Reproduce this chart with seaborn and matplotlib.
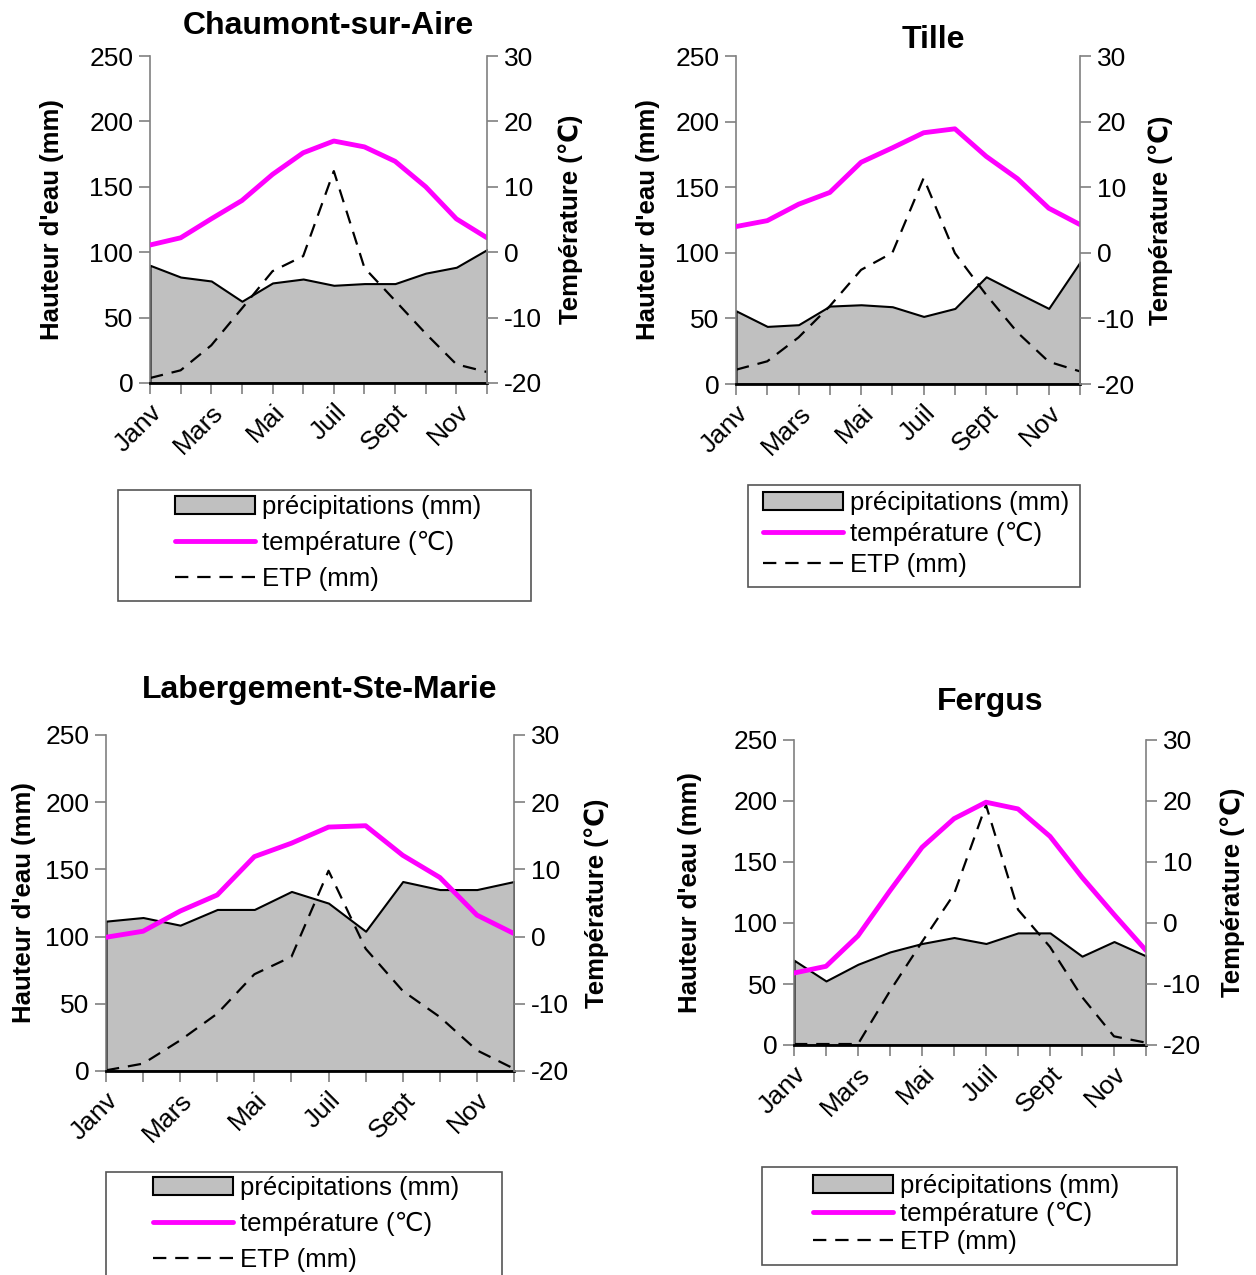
import numpy as np
import pandas as pd
import matplotlib.pyplot as plt
import seaborn as sns
from matplotlib.patches import Patch, Rectangle
from matplotlib.lines import Line2D

mois = ["Janv", "Févr", "Mars", "Avr", "Mai", "Juin", "Juil", "Août", "Sept", "Oct", "Nov", "Déc"]
tick_labels = ["Janv", "", "Mars", "", "Mai", "", "Juil", "", "Sept", "", "Nov", ""]

stations = ["Chaumont-sur-Aire", "Tille", "Labergement-Ste-Marie", "Fergus"]

precip_chaumont = [90, 81, 78, 62.5, 76.5, 79.5, 74.7, 76, 76, 84, 88.5, 102]
temp_chaumont = [1.1, 2.2, 5.1, 7.9, 11.9, 15.2, 17.0, 16.1, 13.9, 10.0, 5.1, 2.2]
etp_chaumont = [3.8, 9.7, 28.8, 57, 85.5, 97, 162, 88, 63, 37.8, 14.3, 8.4]

precip_tille = [55.8, 43.9, 45.2, 59.4, 60.4, 58.9, 51.5, 57.6, 81.7, 69.5, 57.6, 92.9]
temp_tille = [4.0, 4.9, 7.4, 9.2, 13.8, 16.0, 18.3, 18.9, 14.7, 11.3, 6.8, 4.3]
etp_tille = [10.9, 17.3, 35.5, 59.4, 87, 100, 157, 99.7, 68, 39.3, 17, 9.6]

precip_laberg = [111.5, 114.2, 108.5, 120.2, 120.2, 133.6, 124.9, 104, 141, 135, 135, 141]
temp_laberg = [-0.1, 0.8, 3.8, 6.2, 11.9, 13.9, 16.3, 16.5, 12.1, 8.8, 3.2, 0.45]
etp_laberg = [0.5, 5.5, 22.8, 42.7, 72, 85, 149, 91, 59.6, 40.2, 15.4, 1.7]

precip_fergus = [69.5, 52.5, 66.2, 76.3, 83.2, 88.1, 83.2, 91.9, 91.9, 72.8, 84.8, 73]
temp_fergus = [-8.2, -7.1, -2.1, 5.3, 12.4, 17.1, 19.8, 18.7, 14.2, 7.5, 1.4, -4.5]
etp_fergus = [0.8, 0.8, 0.8, 44.3, 84.5, 123.6, 196.7, 111, 80.4, 39.4, 7.1, 1.9]

precips = [precip_chaumont, precip_tille, precip_laberg, precip_fergus]
temps = [temp_chaumont, temp_tille, temp_laberg, temp_fergus]
etps = [etp_chaumont, etp_tille, etp_laberg, etp_fergus]

sns.set_style("white")
plt.rcParams['font.family'] = ['Liberation Sans', 'DejaVu Sans']
plt.rcParams['axes.unicode_minus'] = False
plt.rcParams['text.color'] = 'black'
plt.rcParams['axes.labelcolor'] = 'black'

W, H = 1256, 1275
fig = plt.figure(figsize=(W / 100, H / 100), dpi=100)

# pixel layout: axes (l, t, r, b), title (x, y), ylabel centres, legend box, handle start x, legend centre y, row spacing
layout = [
    dict(ax=(150, 56, 487, 383), title=(328, 26), yl=(52, 570),
         box=(118, 490, 531, 601), hx=175, ly=543, sp=0.45),
    dict(ax=(736, 56, 1080, 384), title=(933, 40), yl=(648, 1160),
         box=(748, 485, 1080, 587), hx=763, ly=534, sp=0.27),
    dict(ax=(106, 735, 514, 1071), title=(320, 690), yl=(24, 596),
         box=(106, 1172, 502, 1290), hx=153, ly=1224, sp=0.45),
    dict(ax=(794, 740, 1146, 1045), title=(990, 702), yl=(690, 1232),
         box=(762, 1167, 1177, 1265), hx=813, ly=1214, sp=0.16),
]

fs = 19
grey_spine = "#808080"

for i, st in enumerate(stations):
    L = layout[i]
    l, t, r, b = L["ax"]
    ax = fig.add_axes([l / W, 1 - b / H, (r - l) / W, (b - t) / H])
    df = pd.DataFrame({"mois": np.arange(12), "precip": precips[i],
                       "temp": temps[i], "etp": etps[i]})

    ax.fill_between(df["mois"], df["precip"], facecolor="#C0C0C0",
                    edgecolor="black", linewidth=1.5, zorder=1)
    sns.lineplot(data=df, x="mois", y="etp", ax=ax, color="black",
                 linewidth=1.6, linestyle=(0, (6, 4)), zorder=2)
    ax.set_xlim(0, 11)
    ax.set_ylim(0, 250)
    ax.set_yticks(range(0, 251, 50))
    ax.set_xticks(range(12))
    ax.set_xticklabels(tick_labels, rotation=45, ha="right", rotation_mode="anchor")
    ax.tick_params(axis="y", left=True, direction="out", length=8, width=1.2,
                   color=grey_spine, labelcolor="black", labelsize=fs, pad=4)
    ax.tick_params(axis="x", bottom=True, direction="out", length=8, width=1.2,
                   color=grey_spine, labelcolor="black", labelsize=fs, pad=4)
    for s in ["top", "right"]:
        ax.spines[s].set_visible(False)
    ax.spines["left"].set_color(grey_spine)
    ax.spines["left"].set_linewidth(1.2)
    ax.spines["bottom"].set_color("black")
    ax.spines["bottom"].set_linewidth(2)
    ax.set_xlabel("")
    ax.set_ylabel("Hauteur d'eau (mm)", fontsize=18.5, fontweight="bold")
    ax.yaxis.set_label_coords((L["yl"][0] + 12 - l) / (r - l), 0.5)

    ax2 = ax.twinx()
    sns.lineplot(data=df, x="mois", y="temp", ax=ax2, color="#FF00FF", linewidth=3.5)
    ax2.set_ylim(-20, 30)
    ax2.set_yticks(range(-20, 31, 10))
    ax2.tick_params(axis="y", right=True, direction="out", length=8, width=1.2,
                    color=grey_spine, labelcolor="black", labelsize=fs, pad=4)
    for s in ["top", "left", "bottom"]:
        ax2.spines[s].set_visible(False)
    ax2.spines["right"].set_color(grey_spine)
    ax2.spines["right"].set_linewidth(1.2)
    ax2.set_ylabel("Température (℃)", fontsize=18.5, fontweight="bold")
    ax2.yaxis.set_label_coords((L["yl"][1] - 12 - l) / (r - l), 0.5)
    ax2.set_xlim(0, 11)

    fig.text(L["title"][0] / W, 1 - L["title"][1] / H, st, fontsize=23,
             fontweight="bold", ha="center", va="center")

    bl, bt, br, bb = L["box"]
    fig.patches.append(Rectangle((bl / W, 1 - bb / H), (br - bl) / W, (bb - bt) / H,
                                 transform=fig.transFigure, facecolor="none",
                                 edgecolor="#555555", linewidth=1.2))
    handles = [Patch(facecolor="#C0C0C0", edgecolor="black", linewidth=1.5),
               Line2D([], [], color="#FF00FF", linewidth=3.5),
               Line2D([], [], color="black", linewidth=1.6, linestyle=(0, (6, 4)))]
    labels = ["précipitations (mm)", "température (℃)", "ETP (mm)"]
    fig.legend(handles, labels, loc="center left",
               bbox_to_anchor=(L["hx"] / W, 1 - L["ly"] / H),
               frameon=False, fontsize=18.5, handlelength=3.1, handletextpad=0.3,
               borderpad=0, borderaxespad=0, labelspacing=L["sp"])

fig.savefig("out.png", dpi=100)
